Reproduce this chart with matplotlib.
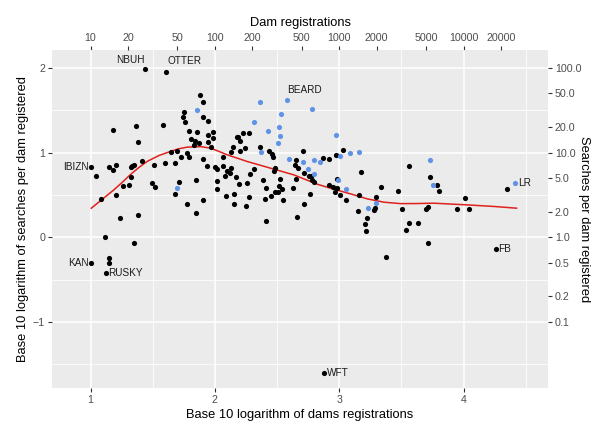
import numpy as np
import matplotlib
matplotlib.use("Agg")
from matplotlib import pyplot as plt

plt.rcParams['font.family'] = ['Liberation Sans', 'DejaVu Sans']

# log10 dam registrations / log10 searches per dam (black = regular breeds)
x_black = [1.006, 1.006, 1.044, 1.082, 1.118, 1.121, 1.150, 1.150, 1.150, 1.179,
           1.179, 1.207, 1.207, 1.233, 1.257, 1.306, 1.322, 1.323, 1.332, 1.346,
           1.346, 1.364, 1.384, 1.384, 1.416, 1.437, 1.493, 1.508, 1.521, 1.582,
           1.595, 1.606, 1.646, 1.676, 1.676, 1.694, 1.708, 1.726, 1.742, 1.751,
           1.760, 1.772, 1.772, 1.788, 1.794, 1.809, 1.833, 1.839, 1.847, 1.847,
           1.858, 1.871, 1.877, 1.903, 1.905, 1.905, 1.903, 1.937, 1.945, 1.943,
           1.943, 1.969, 1.986, 1.984, 2.000, 2.019, 2.014, 2.019, 2.062, 2.064,
           2.080, 2.092, 2.100, 2.118, 2.132, 2.132, 2.142, 2.150, 2.153, 2.167,
           2.175, 2.188, 2.191, 2.199, 2.204, 2.223, 2.245, 2.253, 2.261, 2.274,
           2.277, 2.282, 2.311, 2.362, 2.386, 2.405, 2.410, 2.413, 2.434, 2.448,
           2.456, 2.470, 2.475, 2.480, 2.486, 2.507, 2.512, 2.520, 2.542, 2.545,
           2.631, 2.641, 2.652, 2.652, 2.663, 2.668, 2.706, 2.716, 2.716, 2.756,
           2.762, 2.772, 2.784, 2.796, 2.866, 2.877, 2.915, 2.917, 2.947, 2.963,
           2.973, 2.979, 2.985, 3.006, 3.030, 3.057, 3.150, 3.159, 3.175, 3.207,
           3.212, 3.226, 3.282, 3.285, 3.299, 3.335, 3.380, 3.470, 3.504, 3.537,
           3.561, 3.563, 3.631, 3.695, 3.714, 3.714, 3.727, 3.783, 3.800, 3.947,
           4.009, 4.047, 4.258, 4.352]
y_black = [0.831, -0.304, 0.725, 0.455, 0.001, -0.418, 0.829, -0.241, -0.304, 0.799,
           1.268, 0.849, 0.504, 0.230, 0.609, 0.612, 0.827, 0.713, 0.846, 0.858,
           -0.067, 1.318, 1.126, 0.264, 0.905, 1.989, 0.642, 0.849, 0.591, 1.322,
           0.878, 1.950, 1.006, 0.882, 0.515, 1.020, 0.657, 0.953, 1.418, 1.473,
           1.365, 0.993, 0.397, 0.953, 1.254, 1.165, 1.087, 1.138, 0.677, 0.284,
           1.239, 1.115, 1.682, 1.596, 1.424, 0.922, 0.437, 0.840, 1.375, 1.203,
           1.130, 1.065, 1.239, 1.177, 0.827, 0.811, 0.665, 0.571, 0.949, 0.846,
           0.725, 0.485, 0.784, 0.764, 0.816, 1.012, 1.064, 0.515, 0.390, 0.713,
           1.182, 1.182, 0.630, 1.135, 1.024, 1.236, 1.052, 0.370, 0.645, 1.233,
           0.480, 0.745, 0.811, 1.071, 0.681, 0.453, 0.193, 0.586, 1.020, 0.485,
           0.981, 0.953, 0.787, 0.823, 0.539, 0.539, 0.606, 0.686, 0.574, 0.444,
           0.583, 0.858, 0.914, 0.686, 0.236, 0.819, 1.016, 0.764, 0.397, 0.725,
           0.508, 0.721, 0.677, 0.650, 0.934, -1.608, 0.618, 0.926, 0.598, 0.532,
           0.976, 0.693, 0.586, 0.496, 1.032, 0.441, 0.307, 0.500, 0.775, 0.161,
           0.074, 0.232, 0.326, 0.346, 0.473, 0.598, -0.233, 0.547, 0.338, 0.086,
           0.846, 0.173, 0.173, 0.335, 0.355, -0.064, 0.713, 0.618, 0.551, 0.331,
           0.468, 0.338, -0.138, 0.574]

# blue points
x_blue = [1.692, 1.853, 2.314, 2.365, 2.370, 2.426, 2.507, 2.523, 2.518, 2.529,
          2.579, 2.599, 2.706, 2.746, 2.780, 2.796, 2.796, 2.842, 2.973, 2.993,
          3.003, 3.051, 3.086, 3.159, 3.228, 3.298, 3.727, 3.757, 4.418]
y_blue = [0.586, 1.505, 1.363, 1.599, 1.008, 1.256, 1.115, 1.201, 1.304, 1.454,
          1.623, 0.929, 0.887, 0.804, 1.517, 0.917, 0.752, 0.890, 1.209, 0.677,
          0.965, 0.567, 0.993, 1.012, 0.343, 0.405, 0.914, 0.618, 0.638]

# smoothed trend line
x_smooth = [1.006, 1.10, 1.187, 1.26, 1.322, 1.39, 1.456, 1.55, 1.644, 1.71, 1.778,
            1.885, 1.965, 2.03, 2.100, 2.261, 2.475, 2.636, 2.824, 2.957, 3.092,
            3.226, 3.360, 3.494, 3.62, 3.762, 4.031, 4.250, 4.427]
y_smooth = [0.343, 0.455, 0.559, 0.655, 0.742, 0.825, 0.896, 0.965, 1.014, 1.045, 1.064,
            1.070, 1.052, 1.015, 0.973, 0.894, 0.804, 0.736, 0.626, 0.567, 0.512,
            0.453, 0.414, 0.397, 0.398, 0.402, 0.382, 0.363, 0.343]

# labelled breeds: name, x, y, ha, offset in points
labels = [("NBUH", 1.437, 1.989, "right", (0, 6)),
          ("OTTER", 1.606, 1.950, "left", (1, 8)),
          ("BEARD", 2.579, 1.623, "left", (0, 7)),
          ("IBIZN", 1.006, 0.831, "right", (-2, 0)),
          ("KAN", 1.006, -0.304, "right", (-2, 0)),
          ("RUSKY", 1.121, -0.418, "left", (2, 0)),
          ("WFT", 2.877, -1.608, "left", (2, 0)),
          ("FB", 4.258, -0.138, "left", (2, 0)),
          ("LR", 4.418, 0.638, "left", (2, 0))]

dam_ticks = [10, 20, 50, 100, 200, 500, 1000, 2000, 5000, 10000, 20000]
search_ticks = [0.1, 0.2, 0.5, 1, 2, 5, 10, 20, 50, 100]

tick_col = '#4D4D4D'

fig = plt.figure(figsize=(6, 4.24), dpi=100)
ax = fig.add_axes([0.0867, 0.0849, 0.8267, 0.797])
ax.set_facecolor('#EBEBEB')
for s in ax.spines.values():
    s.set_visible(False)

ax.set_xlim(0.69, 4.68)
ax.set_ylim(-1.78, 2.21)
ax.set_xticks([1, 2, 3, 4])
ax.set_yticks([-1, 0, 1, 2])
ax.set_xticks([1.5, 2.5, 3.5, 4.5], minor=True)
ax.set_yticks([-1.5, -0.5, 0.5, 1.5], minor=True)
ax.grid(which='major', color='white', linewidth=1.1)
ax.grid(which='minor', color='white', linewidth=0.55)
ax.set_axisbelow(True)
ax.tick_params(which='major', length=3, width=0.8, color='#333333',
               labelsize=7.7, labelcolor=tick_col, pad=2)
ax.tick_params(which='minor', length=0)

ax.plot(x_smooth, y_smooth, color='#E0201C', linewidth=1.1, zorder=2)
ax.scatter(x_black, y_black, s=14, color='black', linewidths=0, zorder=3)
ax.scatter(x_blue, y_blue, s=14, color='#5F93E6', linewidths=0, zorder=3)

for name, lx, ly, ha, off in labels:
    ax.annotate(name, (lx, ly), xytext=off, textcoords='offset points',
                ha=ha, va='center', fontsize=7.2, color='#1A1A1A')

ax.set_xlabel("Base 10 logarithm of dams registrations", fontsize=9.3, labelpad=3)
ax.set_ylabel("Base 10 logarithm of searches per dam registered", fontsize=9.3, labelpad=3)

top = ax.secondary_xaxis('top')
top.set_xticks(np.log10(dam_ticks), labels=[str(t) for t in dam_ticks])
top.tick_params(length=3, width=0.8, color='#333333', labelsize=7.7,
                labelcolor=tick_col, pad=2)
top.set_xlabel("Dam registrations", fontsize=9.3, labelpad=5)
for s in top.spines.values():
    s.set_visible(False)

right = ax.secondary_yaxis('right')
right.set_yticks(np.log10(search_ticks), labels=["%.1f" % t for t in search_ticks])
right.tick_params(length=3, width=0.8, color='#333333', labelsize=7.7,
                  labelcolor=tick_col, pad=2)
right.set_ylabel("Searches per dam registered", fontsize=9.3, rotation=-90,
                 labelpad=6)
for s in right.spines.values():
    s.set_visible(False)

fig.savefig("out.png", dpi=100)
